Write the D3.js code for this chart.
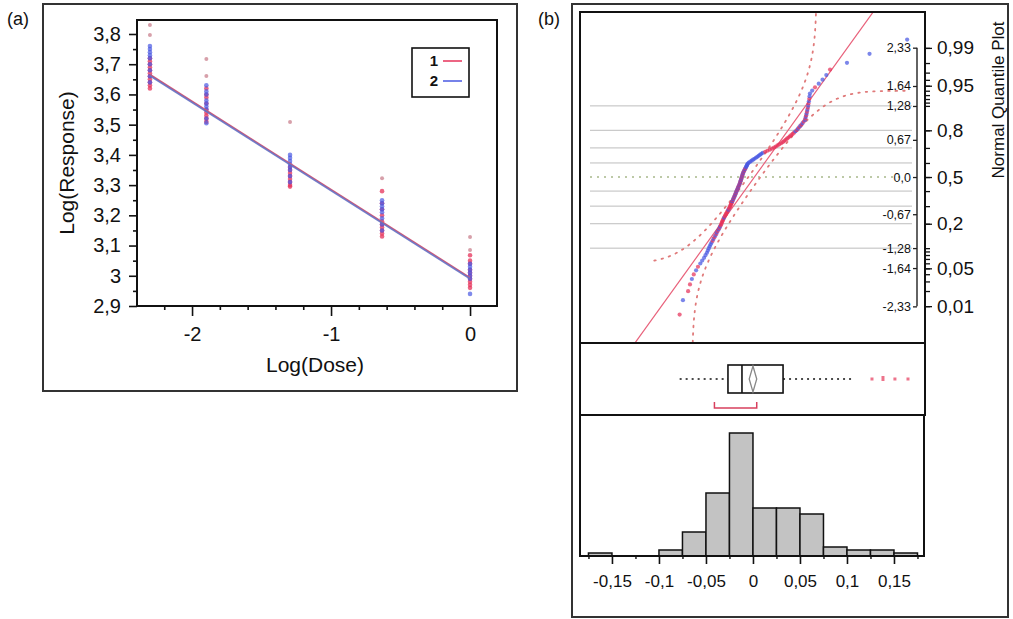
<!DOCTYPE html>
<html><head><meta charset="utf-8">
<script src="https://cdn.jsdelivr.net/npm/d3@7"></script>
<style>body{margin:0;background:#fff}svg{display:block}text{font-family:"Liberation Sans",Arial,sans-serif;fill:#111}</style>
</head><body><svg id="c" width="1013" height="619"></svg>
<script>
// ---------- Panel (a) data ----------
const doses = [-2.303, -1.897, -1.295, -0.633, 0];
const respGroup1 = [
  [3.62,3.63,3.64,3.65,3.66,3.67,3.68,3.69,3.70,3.71,3.72],
  [3.51,3.52,3.53,3.54,3.55,3.57,3.59,3.60,3.62],
  [3.295,3.30,3.31,3.32,3.33,3.34,3.35,3.36],
  [3.13,3.14,3.15,3.16,3.17,3.18,3.20,3.22,3.24,3.28],
  [2.96,2.97,2.98,2.99,3.00,3.01,3.02,3.04,3.05,3.068]
];
const respGroup2 = [
  [3.64,3.66,3.68,3.70,3.72,3.73,3.74,3.75,3.76],
  [3.505,3.52,3.55,3.56,3.57,3.58,3.60,3.61,3.63],
  [3.31,3.33,3.35,3.36,3.37,3.38,3.39,3.40],
  [3.15,3.17,3.19,3.21,3.22,3.23,3.24,3.25],
  [2.94,2.99,3.00,3.01,3.02,3.03,3.04]
];
const respExcluded = [[3.797,3.83],[3.661,3.717],[3.509],[3.323],[3.085,3.128]];
const fitGroup1 = [3.666, 2.994];   // at first / last dose
const fitGroup2 = [3.662, 2.990];
const yTicksA = [2.9,3,3.1,3.2,3.3,3.4,3.5,3.6,3.7,3.8];
const yMinorA = [2.95,3.05,3.15,3.25,3.35,3.45,3.55,3.65,3.75];
const xTicksA = [-2,-1,0];
const xMinorA = [-2.2,-1.8,-1.6,-1.4,-1.2,-0.8,-0.6,-0.4,-0.2];
const legendLabels = ["1","2"];

// ---------- Panel (b) data ----------
const residuals = [
 -0.078,-0.0745,-0.069,-0.067,-0.065,-0.063,-0.0605,-0.0585,-0.056,-0.054,
 -0.052,-0.0505,-0.049,-0.048,-0.047,-0.046,-0.045,-0.044,-0.0428,-0.042,
 -0.041,-0.040,-0.039,-0.0385,-0.0375,-0.0365,-0.0357,-0.035,-0.0343,-0.0337,
 -0.0331,-0.0326,-0.032,-0.0314,-0.0307,-0.0301,-0.0294,-0.0288,-0.0281,-0.0274,
 -0.0268,-0.0261,-0.0255,-0.0248,-0.0243,-0.0238,-0.0234,-0.0229,-0.0224,-0.022,
 -0.0215,-0.0211,-0.0206,-0.0201,-0.0197,-0.0192,-0.0188,-0.0184,-0.018,-0.0176,
 -0.0171,-0.0167,-0.0163,-0.0159,-0.0155,-0.015,-0.0146,-0.0142,-0.0138,-0.0135,
 -0.0132,-0.0129,-0.0126,-0.0123,-0.012,-0.0117,-0.0114,-0.0111,-0.0108,-0.0105,
 -0.01,-0.0095,-0.009,-0.0085,-0.008,-0.0075,-0.007,-0.0065,-0.006,-0.0055,
 -0.0044,-0.0029,-0.0014,0.0001,0.0016,0.0031,0.0046,0.006,0.0074,0.0088,
 0.0104,0.013,0.0154,0.0179,0.0203,0.0224,0.0243,0.0261,0.028,0.0299,
 0.0317,0.0332,0.0347,0.0362,0.0377,0.0392,0.0407,0.0422,0.0437,0.0452,
 0.0467,0.0479,0.0491,0.0503,0.0516,0.0528,0.054,0.0553,0.0557,0.0562,
 0.0566,0.0571,0.0575,0.0579,0.0584,0.0588,0.0591,0.0595,0.0599,0.0602,
 0.0606,0.063,0.066,0.070,0.074,0.078,0.082,0.100,0.124,0.164
];
const residualGroup = "121121212222222222121212121211111121111112111111121212121212121212121212121212121212122222222222222221111111111111111112121212121212121212122212221222111";
const fitMean = 0.0015, fitSd = 0.0425, bandD = 0.06;
const bandRange = [-0.105, 0.165];
const gridProbs = [0.1,0.2,0.3,0.4,0.6,0.7,0.8,0.9];
const zLabelValues = [2.33,1.64,1.28,0.67,0,-0.67,-1.28,-1.64,-2.33];
const zLabelTexts = ["2,33","1,64","1,28","0,67","0,0","-0,67","-1,28","-1,64","-2,33"];
const probTicks = [0.99,0.98,0.97,0.96,0.95,0.94,0.93,0.92,0.91,0.9,0.8,0.7,0.6,0.5,0.4,0.3,0.2,0.1,0.09,0.08,0.07,0.06,0.05,0.04,0.03,0.02,0.01];
const probLabels = [0.99,0.95,0.8,0.5,0.2,0.05,0.01];
const boxQuartiles = [-0.0266, -0.0117, 0.032];
const boxWhiskers = [-0.078, 0.105];
const boxOutliers = [0.1266, 0.1383, 0.151, 0.1649];
const meanDiamond = [-0.004, 0.0, 0.004];
const shortestHalf = [-0.041, 0.004];
const binStart = -0.175, binWidth = 0.025;
const binCounts = [1,0,0,2,8,21,41,16,16,14,3,2,2,1];
const histTicks = [-0.15,-0.1,-0.05,0,0.05,0.1,0.15];
const histMinor = [-0.175,-0.125,-0.075,-0.025,0.025,0.075,0.125,0.175];

// ---------- helpers ----------
const comma = v => String(v).replace('.', ',');
function normCdf(z){
  const t = 1/(1+0.2316419*Math.abs(z));
  const d = 0.3989423*Math.exp(-z*z/2);
  const p = d*t*(0.3193815+t*(-0.3565638+t*(1.781478+t*(-1.821256+t*1.330274))));
  return z > 0 ? 1-p : p;
}
function normInv(p){
  const a=[-39.69683028665376,220.9460984245205,-275.9285104469687,138.3577518672690,-30.66479806614716,2.506628277459239];
  const b=[-54.47609879822406,161.5858368580409,-155.6989798598866,66.80131188771972,-13.28068155288572];
  const c=[-0.007784894002430293,-0.3223964580411365,-2.400758277161838,-2.549732539343734,4.374664141464968,2.938163982698783];
  const d=[0.007784695709041462,0.3224671290700398,2.445134137142996,3.754408661907416];
  const pl=0.02425;
  if(p<pl){const q=Math.sqrt(-2*Math.log(p));return (((((c[0]*q+c[1])*q+c[2])*q+c[3])*q+c[4])*q+c[5])/((((d[0]*q+d[1])*q+d[2])*q+d[3])*q+1);}
  if(p<=1-pl){const q=p-0.5,r=q*q;return (((((a[0]*r+a[1])*r+a[2])*r+a[3])*r+a[4])*r+a[5])*q/(((((b[0]*r+b[1])*r+b[2])*r+b[3])*r+b[4])*r+1);}
  const q=Math.sqrt(-2*Math.log(1-p));return -(((((c[0]*q+c[1])*q+c[2])*q+c[3])*q+c[4])*q+c[5])/((((d[0]*q+d[1])*q+d[2])*q+d[3])*q+1);
}
const RED = "#e6325a", BLUE = "#4858e2", EXCL = "#d7a0aa";

const svg = d3.select('#c');

// ================= Panel (a) =================
svg.append('rect').attr('x',43).attr('y',4).attr('width',474).attr('height',387)
  .attr('fill','none').attr('stroke','#333').attr('stroke-width',2);
svg.append('text').attr('x',7).attr('y',25).text('(a)').style('font-size','18px');

const xA = d3.scaleLinear().domain([-2.396, 0.194]).range([137, 497]);
const yA = d3.scaleLinear().domain([2.9, 3.8463]).range([306, 20]);

const gA = svg.append('g');
gA.append('g').attr('transform','translate(137,0)')
  .call(d3.axisLeft(yA).tickValues(yTicksA).tickSize(8).tickPadding(8).tickFormat(comma));
gA.append('g').attr('transform','translate(137,0)')
  .call(d3.axisLeft(yA).tickValues(yMinorA).tickSize(4).tickFormat(''));
gA.append('g').attr('transform','translate(0,306)')
  .call(d3.axisBottom(xA).tickValues(xTicksA).tickSize(10).tickPadding(11).tickFormat(comma));
gA.append('g').attr('transform','translate(0,306)')
  .call(d3.axisBottom(xA).tickValues(xMinorA).tickSize(4).tickFormat(''));
gA.selectAll('.domain').remove();
gA.selectAll('.tick line').attr('stroke','#111').attr('stroke-width',1.6);
gA.selectAll('.tick text').style('font-size','20px').style('font-family','"Liberation Sans",Arial,sans-serif').attr('fill','#111');

doses.forEach((dx,i) => {
  gA.selectAll(null).data(respExcluded[i]).enter().append('circle')
    .attr('cx', xA(dx)).attr('cy', d => yA(d)).attr('r', 2).attr('fill', EXCL);
  gA.selectAll(null).data(respGroup1[i]).enter().append('circle')
    .attr('cx', xA(dx)).attr('cy', d => yA(d)).attr('r', 2.3).attr('fill', RED).attr('opacity',0.75);
  gA.selectAll(null).data(respGroup2[i]).enter().append('circle')
    .attr('cx', xA(dx)).attr('cy', d => yA(d)).attr('r', 2.3).attr('fill', BLUE).attr('opacity',0.7);
});
const xEnds = [doses[0], doses[doses.length-1]];
gA.append('line').attr('x1',xA(xEnds[0])).attr('y1',yA(fitGroup1[0])).attr('x2',xA(xEnds[1])).attr('y2',yA(fitGroup1[1]))
  .attr('stroke','#d05a78').attr('stroke-width',1.5);
gA.append('line').attr('x1',xA(xEnds[0])).attr('y1',yA(fitGroup2[0])).attr('x2',xA(xEnds[1])).attr('y2',yA(fitGroup2[1]))
  .attr('stroke','#6470c4').attr('stroke-width',1.6).attr('opacity',0.9);
gA.append('rect').attr('x',137).attr('y',20).attr('width',360).attr('height',286)
  .attr('fill','none').attr('stroke','#111').attr('stroke-width',2);
gA.append('rect').attr('x',412).attr('y',48).attr('width',57).attr('height',49)
  .attr('fill','#fff').attr('stroke','#111').attr('stroke-width',1.6);
const legColors = [RED, BLUE];
legendLabels.forEach((t,i) => {
  gA.append('text').attr('x',438).attr('y',66+i*20).attr('text-anchor','end').style('font-size','15px').style('font-weight','bold').text(t);
  gA.append('line').attr('x1',443).attr('x2',462).attr('y1',61+i*20).attr('y2',61+i*20)
    .attr('stroke',legColors[i]).attr('stroke-width',1.5);
});
svg.append('text').attr('x',315).attr('y',372).attr('text-anchor','middle').style('font-size','21px').text('Log(Dose)');
svg.append('text').attr('transform','translate(74,163) rotate(-90)').attr('text-anchor','middle').style('font-size','21px').text('Log(Response)');

// ================= Panel (b) =================
svg.append('rect').attr('x',572).attr('y',4).attr('width',436).attr('height',613)
  .attr('fill','none').attr('stroke','#333').attr('stroke-width',2);
svg.append('text').attr('x',538).attr('y',25).text('(b)').style('font-size','18px');

const xR = d3.scaleLinear().domain([-0.184, 0.183]).range([580, 925]);
const yQ = d3.scaleLinear().domain([-2.99, 2.973]).range([343, 12]);

const gB = svg.append('g');
svg.append('defs').append('clipPath').attr('id','qclip').append('rect')
  .attr('x',580).attr('y',12).attr('width',345).attr('height',331);

gB.selectAll(null).data(gridProbs).enter().append('line')
  .attr('x1',590).attr('x2',912).attr('y1',d=>yQ(normInv(d))).attr('y2',d=>yQ(normInv(d)))
  .attr('stroke','#bdbdbd').attr('stroke-width',1);
gB.append('line').attr('x1',590).attr('x2',905).attr('y1',yQ(0)).attr('y2',yQ(0))
  .attr('stroke','#a8b88a').attr('stroke-width',1.4).attr('stroke-dasharray','2,5');

const zAx = gB.append('g').attr('transform','translate(917,0)')
  .call(d3.axisLeft(yQ).tickValues(zLabelValues).tickSize(4).tickPadding(2).tickFormat((d,i)=>zLabelTexts[i]));
zAx.select('.domain').remove();
zAx.selectAll('.tick line').attr('stroke','#222').attr('stroke-width',1.3);
zAx.selectAll('.tick text').style('font-size','12.5px').attr('fill','#555').style('font-family','"Liberation Sans",Arial,sans-serif');
gB.append('line').attr('x1',917).attr('x2',917).attr('y1',yQ(2.33)).attr('y2',yQ(-2.33))
  .attr('stroke','#222').attr('stroke-width',1.4);

const gClip = gB.append('g').attr('clip-path','url(#qclip)');
const rSamples = d3.range(bandRange[0], bandRange[1] + 0.0001, 0.0005);
const bandUpper = rSamples.map(r => { const P = normCdf((r-fitMean)/fitSd)+bandD; return [r, P>=1 ? 10 : normInv(P)]; });
const bandLower = rSamples.map(r => { const P = normCdf((r-fitMean)/fitSd)-bandD; return [r, P<=0 ? -10 : normInv(P)]; });
const bandLine = d3.line().x(d=>xR(d[0])).y(d=>yQ(d[1]));
[bandUpper, bandLower].forEach(b => {
  gClip.append('path').attr('d', bandLine(b)).attr('fill','none')
    .attr('stroke','#e07a7a').attr('stroke-width',1.8).attr('stroke-dasharray','1.5,6').attr('stroke-linecap','round');
});
gClip.append('line')
  .attr('x1',xR(fitMean+fitSd*-3.2)).attr('y1',yQ(-3.2))
  .attr('x2',xR(fitMean+fitSd*3.2)).attr('y2',yQ(3.2))
  .attr('stroke','#e8607a').attr('stroke-width',1.2);

const nRes = residuals.length;
const qq = residuals.map((r,i) => ({r, z: normInv((i+1)/(nRes+1)), g: residualGroup[i] || '1'}));
gClip.selectAll(null).data(qq).enter().append('circle')
  .attr('cx', d=>xR(d.r)).attr('cy', d=>yQ(d.z)).attr('r', 2.1)
  .attr('fill', d => d.g==='2' ? BLUE : RED).attr('opacity', 0.72);

gB.append('rect').attr('x',580).attr('y',12).attr('width',345).attr('height',331)
  .attr('fill','none').attr('stroke','#111').attr('stroke-width',2);

const pAxMinor = gB.append('g').attr('transform','translate(925,0)')
  .call(d3.axisRight(yQ).tickValues(probTicks.map(normInv)).tickSize(5).tickFormat(''));
const pAx = gB.append('g').attr('transform','translate(925,0)')
  .call(d3.axisRight(yQ).tickValues(probLabels.map(normInv)).tickSize(7).tickPadding(5).tickFormat((d,i)=>comma(probLabels[i])));
gB.selectAll('.domain').remove();
pAxMinor.selectAll('.tick line').attr('stroke','#111').attr('stroke-width',1.3);
pAx.selectAll('.tick line').attr('stroke','#111').attr('stroke-width',1.3);
pAx.selectAll('.tick text').style('font-size','19px').attr('fill','#111').style('font-family','"Liberation Sans",Arial,sans-serif');
svg.append('text').attr('transform','translate(1004,100) rotate(-90)').attr('text-anchor','middle')
  .style('font-size','17px').text('Normal Quantile Plot');

// ---- box plot panel ----
const yBox = 379;
gB.append('rect').attr('x',580).attr('y',343).attr('width',345).attr('height',72)
  .attr('fill','none').attr('stroke','#111').attr('stroke-width',2);
gB.append('line').attr('x1',xR(boxWhiskers[0])).attr('x2',xR(boxQuartiles[0])).attr('y1',yBox).attr('y2',yBox)
  .attr('stroke','#111').attr('stroke-width',1.6).attr('stroke-dasharray','2,4');
gB.append('line').attr('x1',xR(boxQuartiles[2])).attr('x2',xR(boxWhiskers[1])).attr('y1',yBox).attr('y2',yBox)
  .attr('stroke','#111').attr('stroke-width',1.6).attr('stroke-dasharray','2,4');
gB.append('rect').attr('x',xR(boxQuartiles[0])).attr('y',365).attr('width',xR(boxQuartiles[2])-xR(boxQuartiles[0])).attr('height',28)
  .attr('fill','#fff').attr('stroke','#111').attr('stroke-width',1.6);
gB.append('line').attr('x1',xR(boxQuartiles[1])).attr('x2',xR(boxQuartiles[1])).attr('y1',365).attr('y2',393)
  .attr('stroke','#111').attr('stroke-width',1.6);
gB.append('path').attr('d',`M${xR(meanDiamond[1])},366 L${xR(meanDiamond[2])},${yBox} L${xR(meanDiamond[1])},392 L${xR(meanDiamond[0])},${yBox} Z`)
  .attr('fill','none').attr('stroke','#888').attr('stroke-width',1.3);
gB.selectAll(null).data(boxOutliers).enter().append('rect')
  .attr('x',d=>xR(d)-1.5).attr('y',(d,i)=> i===1 ? yBox-3 : yBox-1.5).attr('width',3).attr('height',(d,i)=> i===1 ? 5 : 3)
  .attr('fill','#e8506e').attr('opacity',0.8);
gB.append('path').attr('d',`M${xR(shortestHalf[0])},402 V408 H${xR(shortestHalf[1])} V402`)
  .attr('fill','none').attr('stroke','#d8405e').attr('stroke-width',1.5);

// ---- histogram panel ----
const yH = d3.scaleLinear().domain([0, 47]).range([556, 415]);
const bins = binCounts.map((c,i) => ({x0: binStart + i*binWidth, x1: binStart + (i+1)*binWidth, c}));
gB.selectAll('rect.bar').data(bins.filter(b=>b.c>0)).enter().append('rect').attr('class','bar')
  .attr('x', d=>xR(d.x0)).attr('width', d=>xR(d.x1)-xR(d.x0))
  .attr('y', d=>yH(d.c)).attr('height', d=>yH(0)-yH(d.c))
  .attr('fill','#c3c3c3').attr('stroke','#111').attr('stroke-width',1.5);
gB.append('rect').attr('x',580).attr('y',415).attr('width',344).attr('height',141)
  .attr('fill','none').attr('stroke','#111').attr('stroke-width',2);
const hAx = gB.append('g').attr('transform','translate(0,556)')
  .call(d3.axisBottom(xR).tickValues(histTicks).tickSize(8).tickPadding(11).tickFormat(comma));
const hAxMinor = gB.append('g').attr('transform','translate(0,556)')
  .call(d3.axisBottom(xR).tickValues(histMinor).tickSize(3).tickFormat(''));
hAx.select('.domain').remove(); hAxMinor.select('.domain').remove();
hAx.selectAll('.tick line').attr('stroke','#111').attr('stroke-width',1.6);
hAxMinor.selectAll('.tick line').attr('stroke','#111').attr('stroke-width',1.4);
hAx.selectAll('.tick text').style('font-size','17px').attr('fill','#111').style('font-family','"Liberation Sans",Arial,sans-serif');
</script>
</body></html>
